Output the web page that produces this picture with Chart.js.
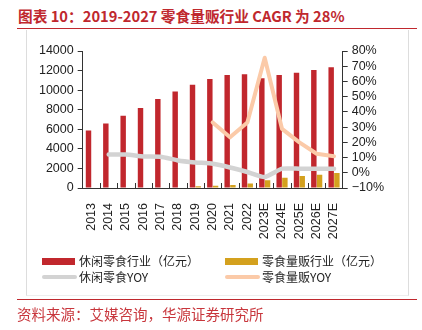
<!DOCTYPE html>
<html lang="zh">
<head>
  <meta charset="UTF-8">
  <title>零食量贩行业</title>
  <style>
    body { margin: 0; width: 422px; height: 330px; background: #fff; position: relative; overflow: hidden; font-family: "Noto Sans CJK SC", sans-serif; }
    #title { position: absolute; left: 18px; top: 5px; font-size: 14.7px; font-weight: bold; color: #c0282e; line-height: 22px; white-space: nowrap; }
    .redline { position: absolute; left: 17px; width: 400px; height: 0; border-top: 1.5px solid #c0282e; }
    #box { position: absolute; left: 26px; top: 30px; width: 381px; height: 265px; border-left: 1px solid #ddd; border-right: 1px solid #ddd; border-bottom: 1px solid #eee; }
    #chartWrap { position: absolute; left: 0; top: 0; width: 422px; height: 330px; }
    #source { position: absolute; left: 17px; top: 303px; font-size: 14.5px; color: #c8363c; line-height: 22px; white-space: nowrap; }
    .leg { position: absolute; font-size: 12px; color: #222; line-height: 16px; white-space: nowrap; }
    .leg i { position: absolute; left: 0; }
    .leg span { position: absolute; left: 37px; top: -8px; }
  </style>
</head>
<body>
  <div id="title">图表 10：2019-2027 零食量贩行业 CAGR 为 28%</div>
  <div class="redline" style="top:28px"></div>
  <div id="box"></div>
  <div id="chartWrap"><canvas id="myChart" width="422" height="330"></canvas></div>
  <div id="legend"></div>
  <div class="redline" style="top:299px"></div>
  <div id="source">资料来源：艾媒咨询，华源证券研究所</div>

  <script src="https://cdn.jsdelivr.net/npm/chart.js"></script>
  <script>
    const years = ['2013', '2014', '2015', '2016', '2017', '2018', '2019', '2020', '2021', '2022', '2023E', '2024E', '2025E', '2026E', '2027E'];
    // 亿元
    const snackIndustry = [5870, 6600, 7390, 8170, 9090, 9860, 10540, 11150, 11550, 11630, 11220, 11550, 11790, 12060, 12340];
    const bulkSnack = [null, null, null, null, null, null, 170, 230, 300, 450, 780, 1050, 1220, 1360, 1530];
    // %
    const snackYoy = [null, 12.0, 12.0, 10.7, 10.5, 8.1, 6.8, 5.9, 3.5, 0.5, -2.8, 2.7, 2.7, 2.7, 2.7];
    const bulkYoy = [null, null, null, null, null, null, null, 33.1, 23.3, 33.0, 75.6, 28.8, 20.0, 12.5, 10.9];

    const red = '#c1272d';
    const gold = '#d4a11e';
    const grey = '#d3d3d3';
    const peach = '#fbcaa8';
    const axisColor = '#333';
    const tickFont = { family: '"Liberation Sans", Arial, sans-serif', size: 12.5 };

    // small ticks pointing up into the plot, between categories
    const innerTicks = {
      id: 'innerTicks',
      afterDraw(chart) {
        const sx = chart.scales.x;
        const c = chart.ctx;
        const n = years.length;
        c.save();
        c.strokeStyle = axisColor;
        c.lineWidth = 1;
        for (let i = 1; i < n; i++) {
          const px = Math.round(sx.left + i * sx.width / n) + 0.5;
          c.beginPath();
          c.moveTo(px, sx.top);
          c.lineTo(px, sx.top - 5);
          c.stroke();
        }
        c.restore();
      }
    };

    const ctx = document.getElementById('myChart').getContext('2d');
    const chart = new Chart(ctx, {
      data: {
        labels: years,
        datasets: [
          { type: 'bar', label: '休闲零食行业（亿元）', data: snackIndustry, backgroundColor: red, yAxisID: 'y', order: 2, barPercentage: 0.95, categoryPercentage: 0.66 },
          { type: 'bar', label: '零食量贩行业（亿元）', data: bulkSnack, backgroundColor: gold, yAxisID: 'y', order: 2, barPercentage: 0.95, categoryPercentage: 0.66 },
          { type: 'line', label: '休闲零食YOY', data: snackYoy, borderColor: grey, borderWidth: 4.5, pointRadius: 0, yAxisID: 'y1', order: 1, tension: 0.15, borderCapStyle: 'round', borderJoinStyle: 'round' },
          { type: 'line', label: '零食量贩YOY', data: bulkYoy, borderColor: peach, borderWidth: 4, pointRadius: 0, yAxisID: 'y1', order: 1, tension: 0, borderCapStyle: 'round', borderJoinStyle: 'round' }
        ]
      },
      options: {
        responsive: false,
        animation: false,
        layout: { padding: { left: 32.7, right: 34.3, top: 51, bottom: 82 } },
        plugins: { legend: { display: false }, tooltip: { enabled: false } },
        scales: {
          x: {
            grid: { display: false },
            border: { display: true, color: axisColor },
            ticks: { color: '#222', font: tickFont, maxRotation: 90, minRotation: 90, autoSkip: false, padding: 7 },
            afterFit: s => { s.height = 60; }
          },
          y: {
            position: 'left',
            min: 0, max: 14000,
            grid: { drawOnChartArea: false, drawTicks: true, tickLength: 5, color: axisColor },
            border: { display: true, color: axisColor },
            ticks: { stepSize: 2000, autoSkip: false, color: '#222', font: tickFont, padding: 4, callback: v => String(v) },
            afterFit: s => { s.width = 50; }
          },
          y1: {
            position: 'right',
            min: -10, max: 80,
            grid: { drawOnChartArea: false, drawTicks: true, tickLength: 5, color: axisColor },
            border: { display: true, color: axisColor },
            ticks: { stepSize: 10, autoSkip: false, color: '#222', font: tickFont, padding: 4, callback: v => (v < 0 ? '\u2212' + Math.abs(v) : v) + '%' },
            afterFit: s => { s.width = 45; }
          }
        }
      },
      plugins: [innerTicks]
    });

    // legend in two aligned columns, built from the datasets
    const legendPos = [[42, 261], [225, 261], [42, 277], [225, 277]];
    const legendEl = document.getElementById('legend');
    chart.data.datasets.forEach((ds, i) => {
      const d = document.createElement('div');
      d.className = 'leg';
      d.style.left = legendPos[i][0] + 'px';
      d.style.top = legendPos[i][1] + 'px';
      const mark = document.createElement('i');
      if (ds.type === 'bar') {
        mark.style.cssText = 'width:33px;height:7px;top:-3.5px;background:' + ds.backgroundColor;
      } else {
        mark.style.cssText = 'width:35px;height:4px;top:-2px;border-radius:2px;background:' + ds.borderColor;
      }
      const txt = document.createElement('span');
      txt.textContent = ds.label;
      d.appendChild(mark);
      d.appendChild(txt);
      legendEl.appendChild(d);
    });
  </script>
</body>
</html>
